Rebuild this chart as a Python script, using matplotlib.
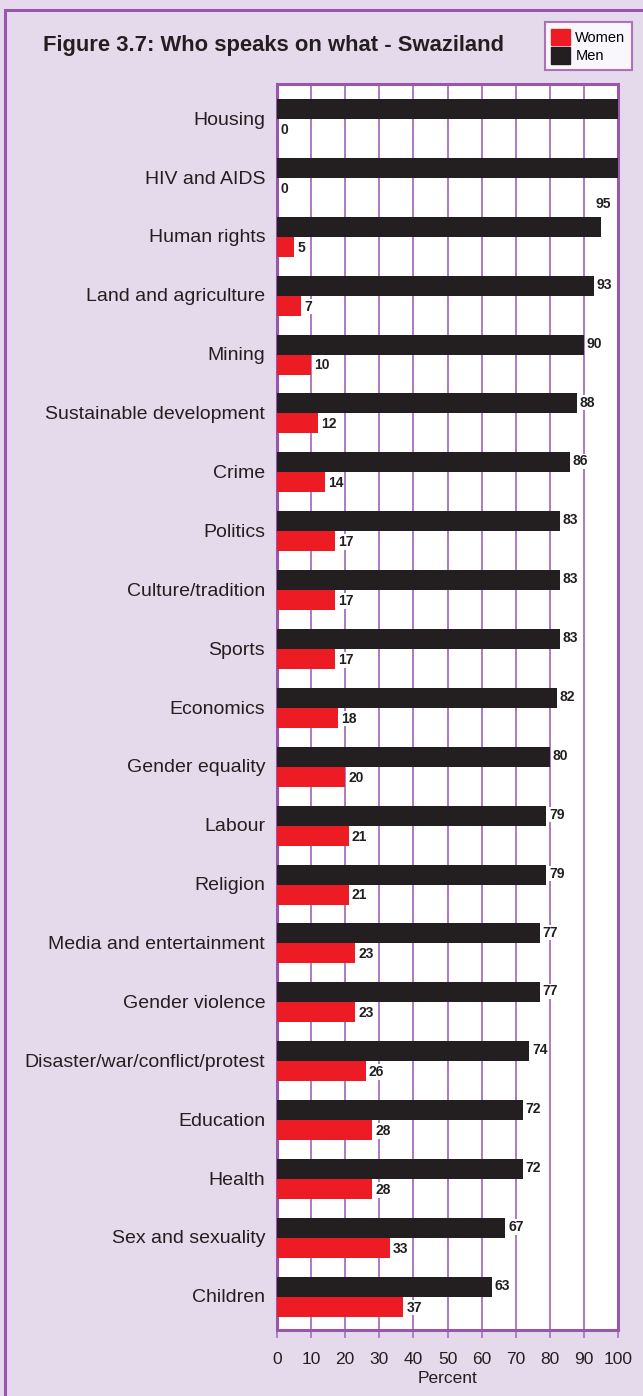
import matplotlib.pyplot as plt
from matplotlib.patches import Rectangle, Patch
import numpy as np

categories = ["Housing", "HIV and AIDS", "Human rights", "Land and agriculture", "Mining",
              "Sustainable development", "Crime", "Politics", "Culture/tradition", "Sports",
              "Economics", "Gender equality", "Labour", "Religion", "Media and entertainment",
              "Gender violence", "Disaster/war/conflict/protest", "Education", "Health",
              "Sex and sexuality", "Children"]
women = [0, 0, 5, 7, 10, 12, 14, 17, 17, 17, 18, 20, 21, 21, 23, 23, 26, 28, 28, 33, 37]
men = [100, 100, 95, 93, 90, 88, 86, 83, 83, 83, 82, 80, 79, 79, 77, 77, 74, 72, 72, 67, 63]

bg = '#e5daec'
purple = '#9a55ad'
grid_c = '#a66fbd'
red = '#ed1c24'
black = '#231f20'

plt.rcParams['font.family'] = ['Liberation Sans', 'DejaVu Sans']

fig = plt.figure(figsize=(6.43, 13.96), dpi=100)
fig.patch.set_facecolor(bg)

# outer frame
fig.patches.append(Rectangle((5 / 643, -0.05), 1.2, 1 - 10 / 1396 + 0.05, transform=fig.transFigure,
                             fill=False, edgecolor=purple, linewidth=2.2))

ax = fig.add_axes([277 / 643, 1 - 1330 / 1396, 341 / 643, (1330 - 84) / 1396])
ax.set_facecolor('white')

y = np.arange(len(categories))
h = 0.34
ax.barh(y - 0.155, men, height=h, color=black, zorder=3)
ax.barh(y + 0.185, women, height=h, color=red, zorder=3)

for i in range(len(categories)):
    if men[i] < 100:
        if men[i] >= 95:
            ax.text(men[i] - 1.5, y[i] - 0.55, str(men[i]), fontsize=10, fontweight='bold',
                    color=black, va='center', ha='left', zorder=4)
        else:
            ax.text(men[i] + 0.8, y[i] - 0.17, str(men[i]), fontsize=10, fontweight='bold',
                    color=black, va='center', ha='left', zorder=4,
                    bbox=dict(facecolor='white', edgecolor='none', pad=0.5))
    ax.text(women[i] + 0.9, y[i] + 0.2, str(women[i]), fontsize=10, fontweight='bold',
            color=black, va='center', ha='left', zorder=4,
            bbox=dict(facecolor='white', edgecolor='none', pad=0.5))

ax.set_xlim(0, 100)
ax.set_ylim(len(categories) - 1 + 0.58, -0.58)
ax.set_xticks(np.arange(0, 101, 10))
ax.set_yticks(y)
ax.set_yticklabels(categories, fontsize=14, color=black)
ax.tick_params(axis='y', length=0, pad=8.5)
ax.tick_params(axis='x', length=6, width=1.2, color=grid_c, labelsize=12.5, labelcolor=black, pad=10)
ax.grid(axis='x', color=grid_c, linewidth=1.3, zorder=1)
for s in ax.spines.values():
    s.set_color(purple)
    s.set_linewidth(2.2)
ax.set_xlabel('Percent', fontsize=12.5, color=black, labelpad=3)

fig.text(43 / 643, 1 - 46 / 1396, 'Figure 3.7: Who speaks on what - Swaziland',
         fontsize=15.8, fontweight='bold', color=black, va='center', ha='left')

leg = fig.legend(handles=[Patch(color=red, label='Women'), Patch(color=black, label='Men')],
                 loc='upper right', bbox_to_anchor=(632 / 643, 1 - 22 / 1396), fontsize=10.5,
                 frameon=True, fancybox=False, handlelength=1.3, handleheight=1.4,
                 handletextpad=0.35, borderpad=0.45, labelspacing=0.1, borderaxespad=0)
leg.get_frame().set_edgecolor(purple)
leg.get_frame().set_linewidth(1.5)
leg.get_frame().set_facecolor('white')

fig.savefig('out.png', dpi=100, facecolor=bg)
